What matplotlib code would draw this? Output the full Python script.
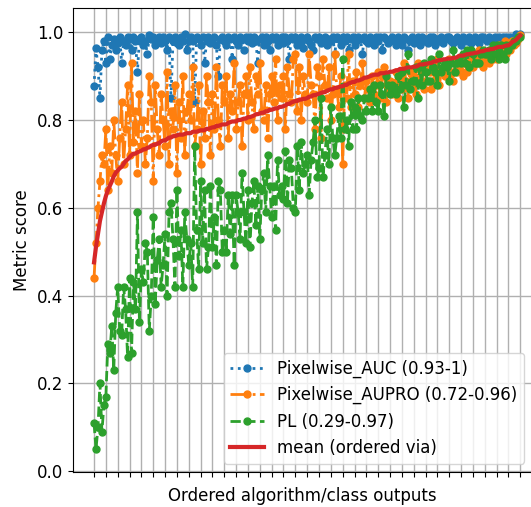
import matplotlib
matplotlib.use("Agg")
import matplotlib.pyplot as plt
import numpy as np

# per algorithm/class scores (left to right)
pixelwise_auc = [
    0.877, 0.963, 0.92, 0.85, 0.96, 0.98, 0.93, 0.99, 0.94, 0.97, 0.985, 0.96,
    0.975, 0.99, 0.93, 0.98, 0.97, 0.99, 0.985, 0.96, 0.99, 0.98, 0.91, 0.985,
    0.99, 0.97, 0.98, 0.993, 0.95, 0.985, 0.99, 0.97, 0.98, 0.99, 0.975, 0.99,
    0.98, 0.96, 0.99, 0.85, 0.98, 0.99, 0.975, 0.97, 0.99, 0.98, 0.995, 0.96,
    0.99, 0.98, 0.84, 0.98, 0.99, 0.97, 0.985, 0.99, 0.93, 0.98, 0.99, 0.975,
    0.98, 0.99, 0.97, 0.90, 0.985, 0.99, 0.98, 0.97, 0.99, 0.985, 0.94, 0.99,
    0.98, 0.99, 0.97, 0.985, 0.99, 0.96, 0.98, 0.99, 0.975, 0.99, 0.98, 0.93,
    0.99, 0.985, 0.97, 0.99, 0.98, 0.99, 0.96, 0.985, 0.99, 0.97, 0.98, 0.99,
    0.975, 0.99, 0.98, 0.94, 0.99, 0.985, 0.97, 0.99, 0.98, 0.99, 0.965, 0.985,
    0.99, 0.98, 0.97, 0.99, 0.985, 0.96, 0.99, 0.975, 0.98, 0.99, 0.97, 0.985,
    0.99, 0.98, 0.95, 0.99, 0.985, 0.97, 0.99, 0.98, 0.99, 0.96, 0.985, 0.99,
    0.97, 0.98, 0.99, 0.985, 0.95, 0.99, 0.98, 0.975, 0.99, 0.985, 0.97, 0.99,
    0.98, 0.99, 0.96, 0.985, 0.99, 0.975, 0.98, 0.99, 0.97, 0.985, 0.99, 0.98,
    0.97, 0.99, 0.985, 0.96, 0.98, 0.99, 0.975, 0.985, 0.99, 0.97, 0.98, 0.99,
    0.985, 0.975, 0.99, 0.98, 0.97, 0.99, 0.985, 0.98, 0.99, 0.975, 0.985, 0.99,
    0.98, 0.99, 0.975, 0.985, 0.99, 0.98, 0.97, 0.99, 0.985, 0.98, 0.99, 0.975,
    0.99, 0.985, 0.98, 0.99, 0.975, 0.985, 0.99, 0.98, 0.99, 0.985, 0.975, 0.99,
    0.985, 0.99, 0.98, 0.99, 0.985, 0.99, 0.98, 0.99, 0.985, 0.99, 0.995, 0.99,
    0.995,
]

pixelwise_aupro = [
    0.44, 0.52, 0.60, 0.66, 0.72, 0.70, 0.78, 0.64, 0.74, 0.68, 0.80, 0.72,
    0.66, 0.76, 0.84, 0.70, 0.78, 0.88, 0.72, 0.93, 0.75, 0.82, 0.68, 0.86,
    0.74, 0.80, 0.70, 0.90, 0.76, 0.84, 0.66, 0.88, 0.78, 0.72, 0.86, 0.80,
    0.74, 0.91, 0.70, 0.82, 0.78, 0.88, 0.68, 0.84, 0.76, 0.90, 0.72, 0.82,
    0.80, 0.86, 0.74, 0.92, 0.78, 0.70, 0.88, 0.82, 0.76, 0.90, 0.84, 0.72,
    0.86, 0.78, 0.92, 0.80, 0.74, 0.88, 0.84, 0.90, 0.76, 0.86, 0.82, 0.93,
    0.78, 0.88, 0.84, 0.74, 0.90, 0.86, 0.80, 0.92, 0.84, 0.78, 0.90, 0.86,
    0.82, 0.93, 0.80, 0.88, 0.76, 0.90, 0.86, 0.84, 0.94, 0.80, 0.88, 0.85,
    0.90, 0.78, 0.92, 0.86, 0.84, 0.94, 0.82, 0.95, 0.92, 0.80, 0.90, 0.86,
    0.84, 0.95, 0.88, 0.78, 0.92, 0.86, 0.90, 0.76, 0.94, 0.88, 0.85, 0.92,
    0.86, 0.80, 0.95, 0.87, 0.83, 0.90, 0.70, 0.88, 0.85, 0.95, 0.83, 0.89,
    0.86, 0.91, 0.83, 0.88, 0.93, 0.85, 0.89, 0.87, 0.84, 0.90, 0.86, 0.88,
    0.91, 0.85, 0.90, 0.84, 0.92, 0.87, 0.89, 0.86, 0.91, 0.88, 0.85, 0.90,
    0.87, 0.93, 0.89, 0.85, 0.91, 0.88, 0.90, 0.86, 0.93, 0.89, 0.87, 0.91,
    0.89, 0.92, 0.91, 0.87, 0.92, 0.89, 0.94, 0.88, 0.91, 0.92, 0.90, 0.91,
    0.91, 0.94, 0.89, 0.93, 0.91, 0.92, 0.94, 0.90, 0.93, 0.91, 0.94, 0.92,
    0.94, 0.92, 0.95, 0.93, 0.96, 0.94, 0.92, 0.95, 0.93, 0.96, 0.94, 0.95,
    0.94, 0.97, 0.95, 0.96, 0.98, 0.95, 0.97, 0.96, 0.98, 0.97, 0.975, 0.985,
    0.993,
]

pl_scores = [
    0.11, 0.05, 0.10, 0.20, 0.09, 0.15, 0.17, 0.29, 0.27, 0.33, 0.23, 0.36,
    0.42, 0.32, 0.31, 0.42, 0.37, 0.26, 0.44, 0.27, 0.43, 0.37, 0.59, 0.34,
    0.46, 0.43, 0.52, 0.32, 0.50, 0.40, 0.58, 0.38, 0.48, 0.53, 0.42, 0.47,
    0.54, 0.40, 0.59, 0.61, 0.53, 0.42, 0.64, 0.49, 0.55, 0.42, 0.59, 0.53,
    0.52, 0.47, 0.74, 0.42, 0.55, 0.66, 0.46, 0.52, 0.64, 0.46, 0.51, 0.65,
    0.51, 0.58, 0.47, 0.66, 0.64, 0.50, 0.55, 0.50, 0.63, 0.54, 0.63, 0.47,
    0.63, 0.53, 0.59, 0.68, 0.52, 0.59, 0.64, 0.51, 0.61, 0.66, 0.56, 0.65,
    0.64, 0.53, 0.68, 0.59, 0.72, 0.58, 0.65, 0.65, 0.55, 0.71, 0.63, 0.65,
    0.62, 0.73, 0.61, 0.71, 0.69, 0.60, 0.74, 0.59, 0.64, 0.75, 0.68, 0.70,
    0.72, 0.63, 0.71, 0.80, 0.67, 0.75, 0.69, 0.85, 0.67, 0.72, 0.78, 0.70,
    0.76, 0.83, 0.72, 0.76, 0.81, 0.76, 0.94, 0.78, 0.80, 0.74, 0.84, 0.78,
    0.83, 0.78, 0.85, 0.81, 0.80, 0.85, 0.82, 0.85, 0.87, 0.82, 0.88, 0.84,
    0.82, 0.88, 0.86, 0.90, 0.81, 0.88, 0.86, 0.88, 0.86, 0.87, 0.90, 0.87,
    0.91, 0.83, 0.88, 0.95, 0.87, 0.89, 0.89, 0.92, 0.85, 0.92, 0.93, 0.88,
    0.91, 0.89, 0.89, 0.94, 0.91, 0.92, 0.88, 0.95, 0.91, 0.92, 0.93, 0.92,
    0.93, 0.89, 0.96, 0.91, 0.93, 0.94, 0.93, 0.95, 0.93, 0.96, 0.92, 0.96,
    0.93, 0.95, 0.93, 0.95, 0.93, 0.95, 0.96, 0.95, 0.96, 0.94, 0.97, 0.95,
    0.97, 0.94, 0.97, 0.95, 0.94, 0.97, 0.96, 0.97, 0.97, 0.98, 0.98, 0.99,
    0.99,
]

series_labels = [
    "Pixelwise_AUC (0.93-1)",
    "Pixelwise_AUPRO (0.72-0.96)",
    "PL (0.29-0.97)",
]
mean_label = "mean (ordered via)"
tick_step = 6


def main():
    plt.rcParams["font.size"] = 12

    scores = np.array([pixelwise_auc, pixelwise_aupro, pl_scores])
    mean = scores.mean(axis=0)
    order = np.argsort(mean, kind="stable")
    x = np.arange(len(mean))

    fig = plt.figure(figsize=(5.31, 5.07), dpi=100)
    ax = fig.add_axes([0.1375, 0.069, 0.865, 0.915])

    styles = [":", "-.", "--"]
    colors = ["tab:blue", "tab:orange", "tab:green"]
    for vals, ls, col, lab in zip(scores, styles, colors, series_labels):
        ax.plot(x, vals[order], linestyle=ls, marker="o", markersize=5,
                linewidth=2, color=col, label=lab)
    ax.plot(x, mean[order], color="tab:red", linewidth=3, label=mean_label)

    ax.set_xticks(np.arange(0, len(mean), tick_step))
    ax.set_xticklabels([])
    ax.set_yticks(np.arange(0, 1.01, 0.2))
    ax.set_xlim(-10.65, 222.1)
    ax.set_ylim(-0.002, 1.055)
    ax.grid(True, linewidth=1)
    ax.set_xlabel("Ordered algorithm/class outputs")
    ax.set_ylabel("Metric score")
    ax.legend(loc="lower right")

    fig.savefig("out.png", dpi=100)
    plt.close(fig)


if __name__ == "__main__":
    main()
